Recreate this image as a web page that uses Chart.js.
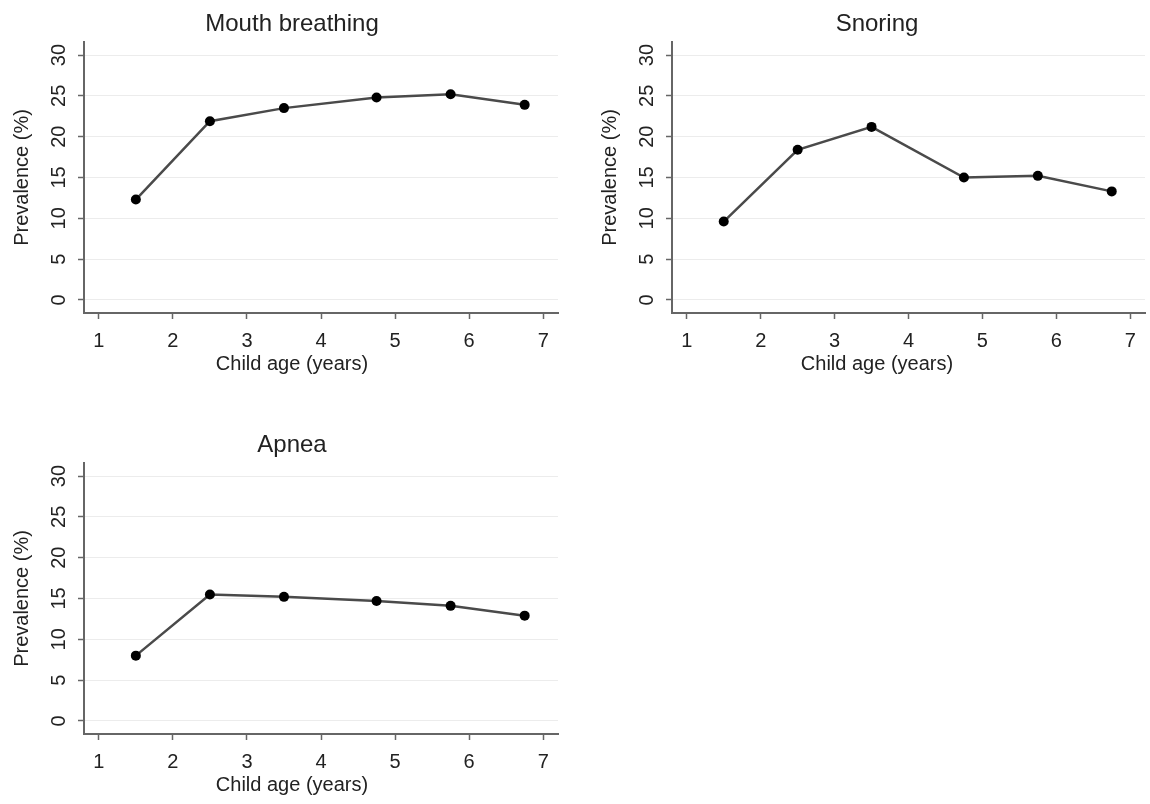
<!DOCTYPE html>
<html>
<head>
<meta charset="utf-8">
<title>Prevalence by child age</title>
<script src="https://cdn.jsdelivr.net/npm/chart.js@4.4.1/dist/chart.umd.min.js"></script>
<style>
	html, body { margin: 0; padding: 0; background: #fff; }
	body { width: 1150px; height: 804px; position: relative; overflow: hidden; }
	canvas { position: absolute; }
	#mouthChart { left: 0; top: 0; }
	#snoringChart { left: 588px; top: 0; }
	#apneaChart { left: 0; top: 421px; }
</style>
</head>
<body>
<canvas id="mouthChart" width="575" height="400"></canvas>
<canvas id="snoringChart" width="562" height="400"></canvas>
<canvas id="apneaChart" width="575" height="383"></canvas>

<script>
// Chart values
var ageYears = [1.5, 2.5, 3.5, 4.75, 5.75, 6.75];
var mouthBreathing = [12.3, 21.9, 23.5, 24.8, 25.2, 23.9];
var snoring = [9.6, 18.4, 21.2, 15.0, 15.2, 13.3];
var apnea = [8.0, 15.5, 15.2, 14.7, 14.1, 12.9];

var xTicks = [1, 2, 3, 4, 5, 6, 7];
var yTicks = [0, 5, 10, 15, 20, 25, 30];

var xTitle = 'Child age (years)';
var yTitle = 'Prevalence (%)';

var FONT = '"Liberation Sans", Arial, Helvetica, sans-serif';
var TEXT = '#222';
var AXIS = '#666';

/**
 * Panel text plugin
 * Stata centres the panel title and the x title on the whole graph, not the plot
 */
var panelText = {
	id: 'panelText',
	afterDraw: function(chart, args, opts) {
		var ctx = chart.ctx;
		ctx.save();
		ctx.fillStyle = TEXT;
		ctx.textAlign = 'center';
		ctx.textBaseline = 'alphabetic';
		ctx.font = '24px ' + FONT;
		ctx.fillText(opts.title, opts.centerX, 31);
		ctx.font = '20px ' + FONT;
		ctx.fillText(opts.xTitle, opts.centerX, 370);
		ctx.restore();
	}
};

function makePanel(id, title, values, opts) {
	var ctx = document.getElementById(id).getContext('2d');

	var points = ageYears.map(function(x, i) {
		return { x: x, y: values[i] };
	});

	return new Chart(ctx, {
		type: 'line',
		data: {
			datasets: [{
				label: title,
				data: points,
				borderColor: '#4a4a4a',
				borderWidth: 2.5,
				pointRadius: 5,
				pointHoverRadius: 5,
				pointBackgroundColor: '#000',
				pointBorderWidth: 0,
				tension: 0,
				fill: false
			}]
		},
		plugins: [panelText],
		options: {
			responsive: false,
			animation: false,
			layout: {
				padding: { left: 10, right: opts.rightPad, top: 42, bottom: opts.bottomPad }
			},
			plugins: {
				legend: { display: false },
				tooltip: { enabled: false },
				panelText: { title: title, xTitle: xTitle, centerX: opts.centerX }
			},
			scales: {
				x: {
					type: 'linear',
					min: 0.8,
					max: 7.2,
					afterBuildTicks: function(scale) {
						scale.ticks = xTicks.map(function(v) { return { value: v }; });
					},
					afterFit: function(scale) {
						scale.height = 40;
					},
					border: { display: true, color: AXIS, width: 2 },
					grid: {
						drawOnChartArea: false,
						drawTicks: true,
						tickLength: 6,
						tickColor: AXIS,
						tickWidth: 1.5
					},
					ticks: {
						color: TEXT,
						padding: 10,
						maxRotation: 0,
						font: { family: FONT, size: 20 }
					}
				},
				y: {
					type: 'linear',
					min: -1.6,
					max: 31.6,
					afterBuildTicks: function(scale) {
						scale.ticks = yTicks.map(function(v) { return { value: v }; });
					},
					afterFit: function(scale) {
						scale.width = 74;
					},
					border: { display: true, color: AXIS, width: 2 },
					grid: {
						color: '#ececec',
						lineWidth: 1,
						drawTicks: true,
						tickLength: 6,
						tickColor: AXIS,
						tickWidth: 1.5
					},
					ticks: {
						color: TEXT,
						padding: 7,
						minRotation: 90,
						maxRotation: 90,
						crossAlign: 'center',
						font: { family: FONT, size: 20 }
					},
					title: {
						display: true,
						text: yTitle,
						color: TEXT,
						padding: 0,
						font: { family: FONT, size: 20 }
					}
				}
			}
		}
	});
}

makePanel('mouthChart', 'Mouth breathing', mouthBreathing, { rightPad: 17, bottomPad: 47, centerX: 292 });
makePanel('snoringChart', 'Snoring', snoring, { rightPad: 4, bottomPad: 47, centerX: 289 });
makePanel('apneaChart', 'Apnea', apnea, { rightPad: 17, bottomPad: 30, centerX: 292 });
</script>
</body>
</html>
